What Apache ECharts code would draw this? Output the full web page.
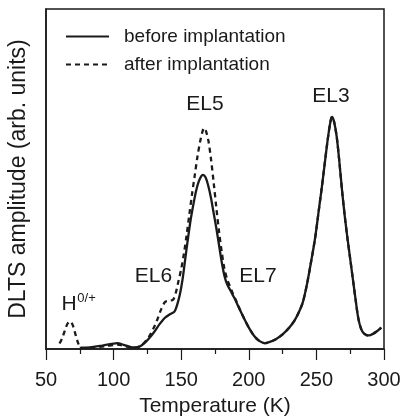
<!DOCTYPE html>
<html>
<head>
<meta charset="utf-8">
<script src="https://cdn.jsdelivr.net/npm/echarts@6/dist/echarts.min.js"></script>
<style>
  html, body { margin: 0; padding: 0; background: #fff; }
  #chart { width: 402px; height: 418px; }
</style>
</head>
<body>
<div id="chart"></div>
<script>
// DLTS 谱：注入前后对比

// 温度 (K) 和幅度 - 注入前（实线）
const beforeT = [75, 80, 85, 90, 95, 100, 103, 106, 110, 114, 117, 120, 123, 126, 130, 134, 138, 142, 145, 147, 149, 151, 153, 155, 157, 159, 161, 163, 165, 166, 168, 170, 172, 174, 176, 178, 180, 182, 184, 186, 188, 190, 192, 195, 198, 201, 204, 207, 210, 212, 215, 220, 225, 230, 234, 237, 240, 243, 246, 249, 252, 254, 256, 258, 260, 261.5, 263, 265, 267, 269, 271, 273, 275, 277, 279, 281, 283, 285, 287, 289, 292, 295, 298];
const beforeAmp = [0.3, 0.4, 0.6, 0.9, 1.3, 1.6, 1.7, 1.4, 0.9, 0.5, 0.5, 0.9, 1.8, 3.0, 5.0, 7.3, 9.2, 10.3, 11.0, 13.0, 16.0, 20.5, 26.5, 32.5, 38.0, 42.5, 46.5, 49.3, 50.9, 51.2, 50.5, 48.0, 44.5, 40.0, 35.5, 30.5, 25.5, 21.5, 19.0, 17.5, 16.0, 14.5, 12.7, 10.2, 7.8, 5.6, 3.8, 2.6, 1.9, 1.7, 2.0, 2.9, 4.3, 6.3, 8.5, 10.8, 13.8, 19.0, 25.5, 32.5, 41.5, 47.5, 54.0, 60.5, 66.0, 68.3, 67.0, 62.5, 55.0, 46.5, 39.0, 32.5, 26.5, 20.5, 14.5, 9.0, 6.0, 4.6, 4.1, 4.0, 4.5, 5.3, 6.3];

// 注入后（虚线），195 K 以上与注入前重合
const afterT = [60, 62, 64, 66, 68, 70, 72, 74, 76, 80, 85, 90, 95, 100, 103, 106, 110, 114, 117, 120, 123, 126, 130, 132, 135, 138, 141, 144, 146, 148, 150, 152, 154, 156, 158, 160, 162, 164, 166, 167, 168, 170, 172, 174, 176, 178, 180, 182, 184, 186, 188, 190, 192, 195, 198, 201, 204, 207, 210, 212, 215, 220, 225, 230, 234, 237, 240, 243, 246, 249, 252, 254, 256, 258, 260, 261.5, 263, 265, 267, 269, 271, 273, 275, 277, 279, 281, 283, 285, 287, 289, 292, 295, 298];
const afterAmp = [1.6, 3.2, 5.5, 7.5, 8.1, 6.8, 4.0, 1.5, 0.4, 0.3, 0.4, 0.6, 0.9, 1.2, 1.3, 1.1, 0.7, 0.4, 0.5, 0.9, 2.0, 3.5, 6.5, 8.3, 11.5, 13.8, 14.2, 14.5, 16.5, 20.0, 23.5, 28.0, 33.5, 39.5, 45.5, 51.0, 56.5, 61.0, 64.3, 65.0, 64.5, 61.5, 56.0, 49.0, 41.5, 34.5, 28.5, 23.5, 20.5, 18.5, 16.5, 14.8, 12.9, 10.2, 7.8, 5.6, 3.8, 2.6, 1.9, 1.7, 2.0, 2.9, 4.3, 6.3, 8.5, 10.8, 13.8, 19.0, 25.5, 32.5, 41.5, 47.5, 54.0, 60.5, 66.0, 68.3, 67.0, 62.5, 55.0, 46.5, 39.0, 32.5, 26.5, 20.5, 14.5, 9.0, 6.0, 4.6, 4.1, 4.0, 4.5, 5.3, 6.3];

// 峰标注（数据坐标）
const peakNames = ['EL5', 'EL3', 'EL6', 'EL7', 'H', '0/+'];
const peakT = [167.6, 260.8, 129.5, 206.8, 67, 80];
const peakAmp = [72, 74.3, 21.3, 21.3, 13.2, 15];

const xTicks = [50, 100, 150, 200, 250, 300];

const FONT = '"Liberation Sans", Arial, sans-serif';
const INK = '#1a1a1a';

function pairs(xs, ys) {
    return xs.map((x, i) => [x, ys[i]]);
}

const chart = echarts.init(document.getElementById('chart'));

const option = {
    animation: false,
    textStyle: { fontFamily: FONT, color: INK },
    grid: {
        left: 46, right: 18, top: 9, bottom: 69,
        containLabel: false,
        outerBoundsMode: 'none',
        show: true, borderColor: INK, borderWidth: 1.5
    },
    legend: {
        data: ['before implantation', 'after implantation'],
        orient: 'vertical',
        left: 60, top: 22,
        itemWidth: 43, itemHeight: 12, itemGap: 9,
        itemStyle: { opacity: 0 },
        textStyle: { fontSize: 19, color: INK, fontFamily: FONT, padding: [0, 0, 0, 10] }
    },
    xAxis: {
        type: 'value',
        min: 50, max: 300, interval: 50,
        name: 'Temperature (K)',
        nameLocation: 'middle',
        nameGap: 47,
        nameTextStyle: { fontSize: 21, color: INK },
        axisLine: { show: true, lineStyle: { color: INK, width: 1.5 } },
        axisTick: { show: true, length: 11, lineStyle: { color: INK, width: 1.2 } },
        minorTick: { show: true, splitNumber: 2, length: 5, lineStyle: { color: INK, width: 1.2 } },
        axisLabel: {
            fontSize: 20, color: INK, margin: 21,
            formatter: v => (xTicks.includes(v) ? String(v) : '')
        },
        splitLine: { show: false }
    },
    yAxis: {
        type: 'value',
        min: 0, max: 100,
        name: 'DLTS amplitude (arb. units)',
        nameLocation: 'middle',
        nameGap: 16,
        nameTextStyle: { fontSize: 23, color: INK },
        axisLine: { show: true, lineStyle: { color: INK, width: 1.5 } },
        axisTick: { show: false },
        axisLabel: { show: false },
        splitLine: { show: false }
    },
    series: [
        {
            name: 'before implantation',
            type: 'line',
            data: pairs(beforeT, beforeAmp),
            smooth: 0.3,
            showSymbol: false,
            symbol: 'none',
            itemStyle: { color: INK },
            lineStyle: { color: INK, width: 2.3 }
        },
        {
            name: 'after implantation',
            type: 'line',
            data: pairs(afterT, afterAmp),
            smooth: 0.3,
            showSymbol: false,
            symbol: 'none',
            itemStyle: { color: INK },
            lineStyle: { color: INK, width: 2.3, type: [5, 4] }
        },
        {
            name: 'labels',
            type: 'scatter',
            silent: true,
            symbolSize: 0,
            itemStyle: { color: INK, opacity: 1 },
            data: peakNames.map((n, i) => ({ name: n, value: [peakT[i], peakAmp[i]] })),
            label: {
                show: true,
                position: 'inside',
                color: INK,
                opacity: 1,
                fontFamily: FONT,
                fontSize: 21,
                formatter: p => p.name
            },
            z: 5
        }
    ]
};

// 上标单独设置小字号
option.series[2].data[5].label = { fontSize: 13 };

chart.setOption(option);
</script>
</body>
</html>
